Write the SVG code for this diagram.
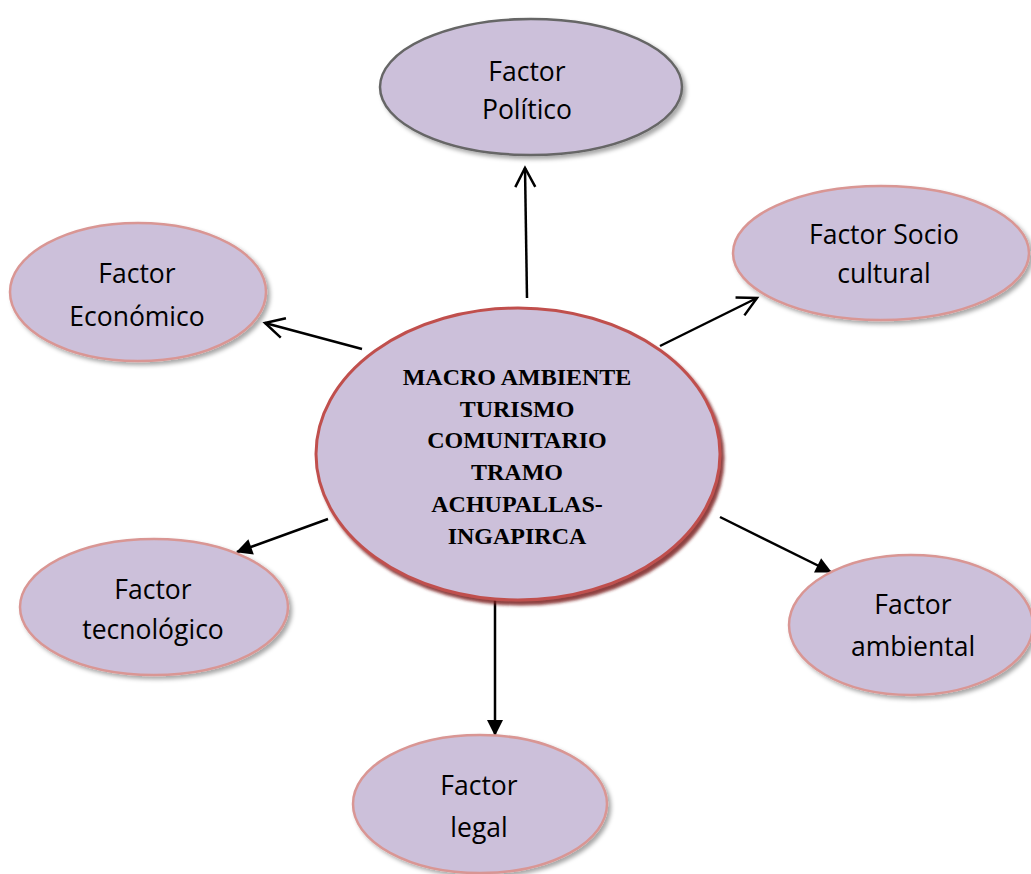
<svg xmlns="http://www.w3.org/2000/svg" width="1031" height="874" viewBox="0 0 1031 874">
<style>
.node{fill:#ccc0da;stroke:#d99694;stroke-width:2.5;filter:url(#sh)}
.pol{stroke:#666666}
.center{fill:#ccc0da;stroke:#c0504d;stroke-width:3;filter:url(#shr)}
.lbl{font-family:"Open Sans","Liberation Sans",sans-serif;font-size:26.5px;fill:#000;text-anchor:middle}
.ctr{font-family:"Liberation Serif","Times New Roman",serif;font-size:24px;font-weight:bold;fill:#000;text-anchor:middle}
.edge{stroke:#000;stroke-width:2.5;fill:none}
.open{marker-end:url(#openArrow)}
.fill{marker-end:url(#fillArrow)}
</style>
<defs>
<filter id="sh" x="-10%" y="-10%" width="130%" height="130%">
<feDropShadow dx="3" dy="3" stdDeviation="2" flood-color="#000" flood-opacity="0.35"/>
</filter>
<filter id="shr" x="-10%" y="-10%" width="130%" height="130%">
<feDropShadow dx="3" dy="4" stdDeviation="1.5" flood-color="#7a1f1c" flood-opacity="0.85"/>
</filter>
<marker id="openArrow" markerUnits="userSpaceOnUse" markerWidth="24" markerHeight="24" viewBox="0 0 24 24" refX="21" refY="12" orient="auto" overflow="visible">
<path d="M2,2 L21,12 L2,22" fill="none" stroke="#000" stroke-width="2.5"/>
</marker>
<marker id="fillArrow" markerUnits="userSpaceOnUse" markerWidth="18" markerHeight="18" viewBox="0 0 18 18" refX="15" refY="9" orient="auto" overflow="visible">
<path d="M0,1 L16,9 L0,17 Z" fill="#000"/>
</marker>
</defs>
<rect width="1031" height="874" fill="#fff"/>
<g id="connectors">
<line class="edge open" x1="527" y1="298" x2="525" y2="168"/>
<line class="edge open" x1="660" y1="346" x2="757" y2="298"/>
<line class="edge open" x1="362" y1="349" x2="265" y2="323"/>
<line class="edge fill" x1="328" y1="519" x2="237" y2="552"/>
<line class="edge fill" x1="720" y1="517" x2="831" y2="572"/>
<line class="edge fill" x1="495" y1="598" x2="495" y2="735"/>
</g>
<g id="politico">
<ellipse class="node pol" cx="531" cy="87" rx="151" ry="68"/>
<text class="lbl" x="527" y="81">Factor</text>
<text class="lbl" x="527" y="119">Político</text>
</g>
<g id="sociocultural">
<ellipse class="node" cx="881" cy="253" rx="148" ry="67"/>
<text class="lbl" x="884" y="244">Factor Socio</text>
<text class="lbl" x="884" y="283">cultural</text>
</g>
<g id="economico">
<ellipse class="node" cx="138" cy="292" rx="128" ry="69"/>
<text class="lbl" x="137" y="283">Factor</text>
<text class="lbl" x="137" y="326">Económico</text>
</g>
<g id="tecnologico">
<ellipse class="node" cx="154" cy="607" rx="134" ry="68"/>
<text class="lbl" x="153" y="599">Factor</text>
<text class="lbl" x="153" y="639">tecnológico</text>
</g>
<g id="ambiental">
<ellipse class="node" cx="911" cy="625" rx="122" ry="70"/>
<text class="lbl" x="913" y="614">Factor</text>
<text class="lbl" x="913" y="656">ambiental</text>
</g>
<g id="legal">
<ellipse class="node" cx="480" cy="804" rx="127" ry="69"/>
<text class="lbl" x="479" y="795">Factor</text>
<text class="lbl" x="479" y="837">legal</text>
</g>
<g id="macroambiente">
<ellipse class="center" cx="518" cy="454" rx="202" ry="146"/>
<text class="ctr" x="517" y="385">MACRO AMBIENTE</text>
<text class="ctr" x="517" y="417">TURISMO</text>
<text class="ctr" x="517" y="448">COMUNITARIO</text>
<text class="ctr" x="517" y="480">TRAMO</text>
<text class="ctr" x="517" y="512">ACHUPALLAS-</text>
<text class="ctr" x="517" y="544">INGAPIRCA</text>
</g>
</svg>
